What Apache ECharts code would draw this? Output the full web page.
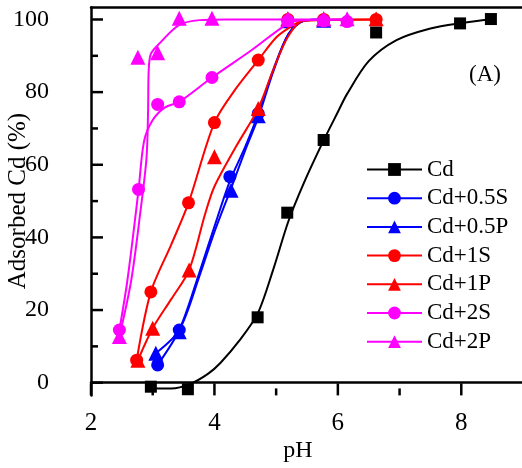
<!DOCTYPE html>
<html>
<head>
<meta charset="utf-8">
<script src="https://cdn.jsdelivr.net/npm/echarts@6/dist/echarts.min.js"></script>
<style>
  html, body { margin: 0; padding: 0; background: #fff; }
  #chart { width: 522px; height: 468px; }
</style>
</head>
<body>
<div id="chart"></div>
<script>
  // 数据点 [pH, 吸附率%]
  var names = ['Cd', 'Cd+0.5S', 'Cd+0.5P', 'Cd+1S', 'Cd+1P', 'Cd+2S', 'Cd+2P']
  var colors = ['#000000', '#0000ff', '#0000ff', '#ff0000', '#ff0000', '#ff00ff', '#ff00ff']
  var symbols = ['rect', 'circle', 'triangle', 'circle', 'triangle', 'circle', 'triangle']

  var cdPts = [[2.97, -1.1], [3.57, -1.8], [4.70, 18.0], [5.18, 46.8], [5.77, 66.8], [6.62, 96.4], [7.98, 98.9], [8.48, 100.1]]
  var s05Pts = [[3.08, 4.9], [3.43, 14.5], [4.25, 56.7], [4.71, 74.1], [5.19, 99.6], [5.77, 99.8]]
  var p05Pts = [[3.05, 8.1], [3.43, 14.0], [4.27, 53.0], [4.71, 73.5], [5.19, 99.6], [5.77, 99.8]]
  var s1Pts = [[2.74, 6.2], [2.97, 25.0], [3.58, 49.5], [4.0, 71.6], [4.71, 88.8], [5.19, 100], [5.77, 100], [6.62, 100]]
  var p1Pts = [[2.76, 6.2], [3.0, 15.0], [3.59, 31.0], [4.0, 62.2], [4.71, 75.5], [5.19, 100.2], [5.77, 100.2], [6.62, 100.2]]
  var s2Pts = [[2.46, 14.5], [2.77, 53.2], [3.08, 76.6], [3.43, 77.3], [3.96, 84.0], [5.19, 99.6], [5.77, 99.6], [6.15, 99.4]]
  var p2Pts = [[2.46, 12.7], [2.76, 89.6], [3.08, 90.8], [3.43, 100.3], [3.96, 100.3], [5.19, 100.2], [5.77, 100.2], [6.15, 100.2]]

  // 拟合曲线
  var cdFit = [[3.0, -1.5], [3.3, -1.6], [3.6, -0.4], [3.9, 2.5], [4.1, 5.5], [4.4, 11.5], [4.7, 19], [4.95, 31], [5.2, 44.5], [5.45, 55], [5.75, 66], [6.0, 74.5], [6.15, 79.5], [6.5, 88.5], [6.95, 94.3], [7.5, 97.5], [8.0, 99], [8.55, 100.2]]
  var s05Fit = [[3.08, 4.9], [3.43, 14.5], [3.75, 30], [4.0, 43], [4.25, 55.5], [4.5, 65], [4.71, 74], [4.95, 86], [5.2, 96], [5.45, 99.6], [5.8, 100]]
  var p05Fit = [[3.05, 8.1], [3.43, 14.5], [3.75, 29], [4.0, 41.5], [4.27, 53.5], [4.5, 64], [4.71, 73], [4.95, 85.5], [5.2, 96], [5.45, 99.6], [5.8, 100]]
  var s1Fit = [[2.74, 6.2], [2.97, 25], [3.3, 38], [3.58, 49.5], [4.0, 71.6], [4.35, 81], [4.71, 88.8], [5.0, 95], [5.22, 97.8], [5.45, 99.8], [6.62, 100]]
  var p1Fit = [[2.76, 6.2], [3.0, 15], [3.3, 23], [3.59, 31], [3.85, 46.5], [4.0, 54], [4.35, 65], [4.71, 75.5], [4.95, 86], [5.2, 95.5], [5.45, 99.6], [6.62, 100]]
  var s2Fit = [[2.46, 14.5], [2.59, 28.2], [2.77, 53], [2.86, 66.5], [3.0, 72.3], [3.2, 75.8], [3.43, 77.3], [3.96, 84], [4.6, 91.5], [5.16, 98.5], [5.4, 99.8], [6.15, 100]]
  var p2Fit = [[2.46, 12.7], [2.65, 28], [2.8, 47], [2.9, 62], [2.925, 75], [2.935, 86], [2.97, 90.5], [3.11, 93.4], [3.43, 98.5], [3.76, 99.8], [4.2, 100], [6.15, 100]]

  // 刻度
  var xLabels = [2, 4, 6, 8]
  var xMajor = [2, 4, 6, 8]
  var xMinor = [3, 5, 7]
  var yMajor = [0, 20, 40, 60, 80, 100]
  var yMinor = [10, 30, 50, 70, 90]

  var ptsList = [cdPts, s05Pts, p05Pts, s1Pts, p1Pts, s2Pts, p2Pts]
  var fitList = [cdFit, s05Fit, p05Fit, s1Fit, p1Fit, s2Fit, p2Fit]
  var sizes = { rect: 12, circle: 13, triangle: 15 }
  var X_MIN = 2, X_MAX = 9, Y_MIN = -3.5, Y_MAX = 103.3

  var font = 'Liberation Serif'
  var series = []
  names.forEach(function(n, i) {
    series.push({
      name: n,
      type: 'line',
      data: fitList[i],
      smooth: 0.3,
      clip: false,
      symbol: symbols[i],
      showSymbol: false,
      color: colors[i],
      lineStyle: { width: 2, color: colors[i] },
      z: 2 + i
    })
    series.push({
      name: n,
      type: 'scatter',
      data: ptsList[i],
      clip: false,
      symbol: symbols[i],
      symbolSize: sizes[symbols[i]],
      itemStyle: { color: colors[i], opacity: 1 },
      z: 2 + i
    })
  })

  // 朝内的刻度线 [值, 长度, 0=x轴 1=y轴]
  var tickData = []
  xMajor.forEach(function(v) { tickData.push([v, 12, 0]) })
  xMinor.forEach(function(v) { tickData.push([v, 7, 0]) })
  yMajor.forEach(function(v) { tickData.push([v, 12, 1]) })
  yMinor.forEach(function(v) { tickData.push([v, 7, 1]) })
  series.push({
    type: 'custom',
    xAxisIndex: 1,
    yAxisIndex: 1,
    clip: false,
    silent: true,
    z: 20,
    data: tickData,
    renderItem: function(params, api) {
      var v = api.value(0)
      var len = api.value(1)
      var p, shape
      if (api.value(2) === 0) {
        p = api.coord([v, Y_MIN])
        shape = { x1: p[0], y1: p[1], x2: p[0], y2: p[1] - len }
      } else {
        p = api.coord([X_MIN, v])
        shape = { x1: p[0], y1: p[1], x2: p[0] + len, y2: p[1] }
      }
      return { type: 'line', shape: shape, style: { stroke: '#000', lineWidth: 2.5 } }
    }
  })

  var frameLine = { show: true, lineStyle: { color: '#000', width: 2.5 } }
  var off = { show: false }

  var chart = echarts.init(document.getElementById('chart'))
  chart.setOption({
    animation: false,
    title: {
      text: '(A)',
      left: 464,
      top: 58,
      textStyle: { fontFamily: font, fontSize: 23, fontWeight: 'normal', color: '#000' }
    },
    legend: {
      data: names,
      orient: 'vertical',
      left: 361,
      top: 153,
      itemWidth: 55,
      itemHeight: 16,
      itemGap: 5.7,
      textStyle: { fontFamily: font, fontSize: 23, lineHeight: 23, color: '#000' }
    },
    // 0: 数据坐标 (0~100), 1: 外框
    grid: [
      { left: 91, right: -1, top: 19.4, bottom: 85.3, containLabel: false, outerBoundsMode: 'none' },
      { left: 91, right: -1, top: 7.5, bottom: 72.6, containLabel: false, outerBoundsMode: 'none' }
    ],
    xAxis: [{
      gridIndex: 0,
      type: 'value',
      min: X_MIN,
      max: X_MAX,
      position: 'bottom',
      offset: 12.7,
      name: 'pH',
      nameLocation: 'middle',
      nameGap: 43,
      nameMoveOverlap: false,
      nameTextStyle: { fontFamily: font, fontSize: 24, color: '#000', padding: [0, 18, 0, 0] },
      axisLine: off,
      axisTick: off,
      axisLabel: { customValues: xLabels, margin: 14, padding: [2, 0, 0, 0], fontFamily: font, fontSize: 25, color: '#000' },
      splitLine: off
    }, {
      gridIndex: 1,
      type: 'value',
      min: X_MIN,
      max: X_MAX,
      position: 'bottom',
      axisLine: frameLine,
      axisTick: off,
      axisLabel: off,
      splitLine: off
    }, {
      gridIndex: 1,
      type: 'value',
      min: X_MIN,
      max: X_MAX,
      position: 'top',
      axisLine: frameLine,
      axisTick: off,
      axisLabel: off,
      splitLine: off
    }],
    yAxis: [{
      gridIndex: 0,
      type: 'value',
      min: 0,
      max: 100,
      interval: 20,
      position: 'left',
      name: 'Adsorbed Cd (%)',
      nameLocation: 'middle',
      nameGap: 60,
      nameMoveOverlap: false,
      nameTextStyle: { fontFamily: font, fontSize: 25, color: '#000' },
      axisLine: off,
      axisTick: off,
      axisLabel: { margin: 29, padding: [0, 13, 0, 0], fontFamily: font, fontSize: 24, color: '#000' },
      splitLine: off
    }, {
      gridIndex: 1,
      type: 'value',
      min: Y_MIN,
      max: Y_MAX,
      position: 'left',
      axisLine: frameLine,
      axisTick: off,
      axisLabel: off,
      splitLine: off
    }],
    series: series
  })
</script>
</body>
</html>
